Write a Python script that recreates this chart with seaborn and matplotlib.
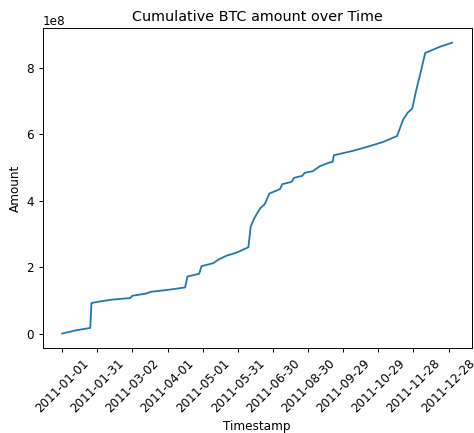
import datetime as dt
import matplotlib
matplotlib.use("Agg")
import matplotlib.pyplot as plt
import pandas as pd
import seaborn as sns

# Sampled readings of the cumulative amount (dates in 2011, amount in 1e8 units)
sample_dates = [
    "2011-01-01", "2011-01-13", "2011-01-25", "2011-01-26", "2011-02-01",
    "2011-02-12", "2011-02-28", "2011-03-02", "2011-03-13", "2011-03-18",
    "2011-03-31", "2011-04-16", "2011-04-18", "2011-04-28", "2011-04-30",
    "2011-05-10", "2011-05-15", "2011-05-21", "2011-05-30", "2011-06-09",
    "2011-06-11", "2011-06-14", "2011-06-19", "2011-06-23", "2011-06-27",
    "2011-08-06", "2011-08-08", "2011-08-16", "2011-08-18", "2011-08-25",
    "2011-08-27", "2011-09-03", "2011-09-09", "2011-09-17", "2011-09-20",
    "2011-09-21", "2011-10-07", "2011-10-21", "2011-11-02", "2011-11-14",
    "2011-11-19", "2011-11-23", "2011-11-27", "2011-11-30", "2011-12-04",
    "2011-12-08", "2011-12-20", "2011-12-31",
]
sample_amounts_e8 = [
    0.00, 0.10, 0.17, 0.92, 0.96,
    1.02, 1.07, 1.14, 1.20, 1.26,
    1.31, 1.39, 1.72, 1.80, 2.03,
    2.12, 2.24, 2.34, 2.44, 2.60,
    3.22, 3.47, 3.77, 3.90, 4.22,
    4.35, 4.50, 4.57, 4.69, 4.75,
    4.84, 4.89, 5.04, 5.15, 5.17,
    5.37, 5.50, 5.64, 5.77, 5.95,
    6.43, 6.65, 6.78, 7.28, 7.85,
    8.45, 8.63, 8.76,
]
missing_month = 7  # no records in July
tick_step = 30

# Daily calendar of 2011 (as records exist), used as the categorical x axis
all_days = [dt.date(2011, 1, 1) + dt.timedelta(days=i) for i in range(365)]
calendar = [d.strftime("%Y-%m-%d") for d in all_days if d.month != missing_month]
position = {s: i for i, s in enumerate(calendar)}

df = pd.DataFrame({
    "Timestamp": [position[s] for s in sample_dates],
    "Amount": [v * 1e8 for v in sample_amounts_e8],
})

DPI = 86.6
fig = plt.figure(figsize=(474 / DPI, 433 / DPI), dpi=DPI)
ax = fig.add_axes([0.090, 0.196, 0.905, 0.739])
sns.lineplot(data=df, x="Timestamp", y="Amount", ax=ax, color="#1f77b4", linewidth=1.5)

ticks = list(range(0, len(calendar), tick_step))
ax.set_xticks(ticks)
ax.set_xticklabels([calendar[t] for t in ticks], rotation=45)
ax.set_title("Cumulative BTC amount over Time")
ax.set_xlabel("Timestamp")
ax.set_ylabel("Amount")

fig.savefig("out.png", dpi=DPI)
